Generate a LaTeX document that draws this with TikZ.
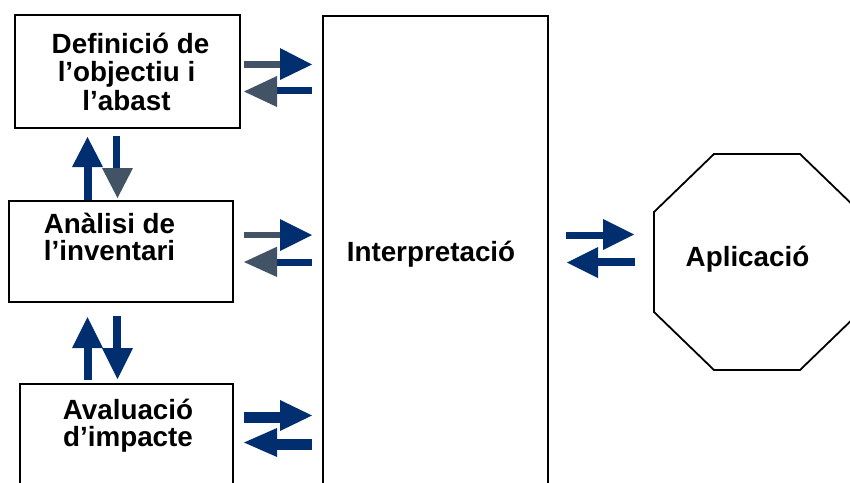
\documentclass[tikz,border=0pt]{standalone}
\usepackage{fontspec}
\setmainfont{Liberation Sans}
\definecolor{navy}{RGB}{0,46,110}
\definecolor{slate}{RGB}{67,83,102}
\begin{document}
\begin{tikzpicture}[x=1pt,y=-1pt,
  box/.style={draw=black,line width=1.8pt,fill=white,inner sep=0pt},
  lbl/.style={font=\bfseries\fontsize{27.8}{28.3}\selectfont,inner sep=0pt,anchor=base},
  nv/.style={fill=navy},
  sl/.style={fill=slate}]
\useasboundingbox (0,0) rectangle (850,482);
\clip (0,0) rectangle (850,482);
% boxes
\node[box,minimum width=225pt,minimum height=113pt] (def) at (127.5,71.5) {};
\node[box,minimum width=224pt,minimum height=101pt] (ana) at (121,251.5) {};
\node[box,minimum width=213pt,minimum height=116pt] (ava) at (126.5,442) {};
\node[box,minimum width=225pt,minimum height=484pt] (int) at (435.2,258) {};
\draw[line width=1.8pt,fill=white] (714,154) -- (800,154) -- (860,212) -- (860,312) -- (800,370) -- (714,370) -- (654,312) -- (654,212) -- cycle;
\coordinate (apl) at (757,262);
% labels
\node[lbl] (t1) at (130.5,53.3) {Definició de};
\node[lbl] (t2) at (126.5,81.7) {l’objectiu i};
\node[lbl] (t3) at (126.5,110) {l’abast};
\node[lbl] (t4) at (109.5,233) {Anàlisi de};
\node[lbl] (t5) at (109.5,260.7) {l’inventari};
\node[lbl] (t6) at (128,419) {Avaluació};
\node[lbl] (t7) at (128,446) {d’impacte};
\node[lbl] (t8) at (431,261) {Interpretació};
\node[lbl] (t9) at (747.5,266.7) {Aplicació};
% arrows def <-> int
\fill[sl] (244,61) rectangle (281,68);
\fill[nv] (280,48) -- (312,64.5) -- (280,80) -- cycle;
\fill[nv] (276,87) rectangle (312,94);
\fill[sl] (277,76) -- (244,91.5) -- (277,107) -- cycle;
% arrows ana <-> int
\fill[sl] (244,231.7) rectangle (281,238.3);
\fill[nv] (280,219) -- (312,235) -- (280,251) -- cycle;
\fill[nv] (276,259) rectangle (312,265.7);
\fill[sl] (277,246.7) -- (244,262) -- (277,277) -- cycle;
% arrows ava <-> int
\fill[nv] (244,411.7) rectangle (281,423.3);
\fill[nv] (280,400) -- (312,415.5) -- (280,431) -- cycle;
\fill[nv] (276,439) rectangle (312,450);
\fill[nv] (277,428) -- (244,442.5) -- (277,457) -- cycle;
% vertical def <-> ana
\fill[nv] (84,166) rectangle (92,200);
\fill[nv] (72,167) -- (87.5,137) -- (103,167) -- cycle;
\fill[nv] (113,136) rectangle (120,169);
\fill[sl] (102,168) -- (117.5,198) -- (133,168) -- cycle;
% vertical ana <-> ava
\fill[nv] (84,347) rectangle (92,380);
\fill[nv] (72,348) -- (87.5,317) -- (103,348) -- cycle;
\fill[nv] (113,316) rectangle (121,349);
\fill[nv] (102,348) -- (117.5,379) -- (133,348) -- cycle;
% int <-> apl
\fill[nv] (566,231.7) rectangle (604,239);
\fill[nv] (603,219) -- (634,234.5) -- (603,250) -- cycle;
\fill[nv] (597,258) rectangle (635,266);
\fill[nv] (598,247) -- (567,262.5) -- (598,278) -- cycle;
\end{tikzpicture}
\end{document}
